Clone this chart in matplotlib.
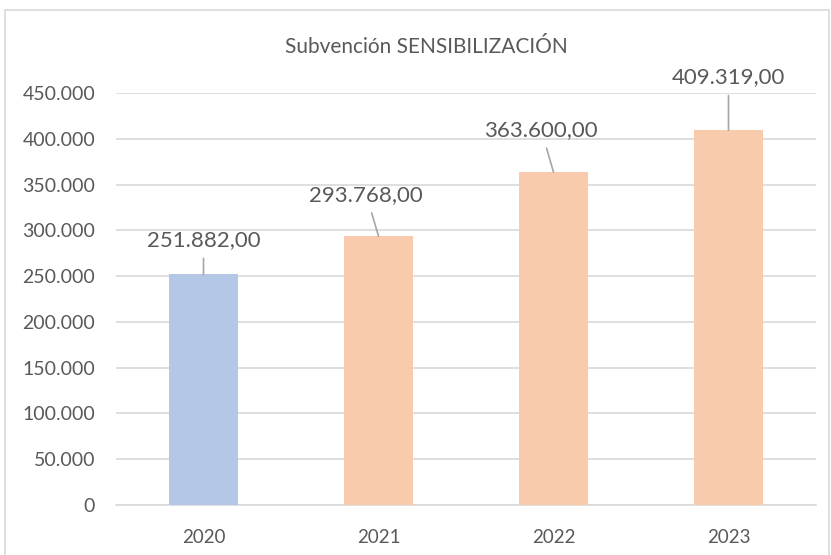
import matplotlib
matplotlib.use("Agg")
import matplotlib.pyplot as plt
from matplotlib.patches import Rectangle

years = ["2020", "2021", "2022", "2023"]
values = [251882.00, 293768.00, 363600.00, 409319.00]
colors = ["#B4C7E7", "#F8CBAD", "#F8CBAD", "#F8CBAD"]
value_labels = ["251.882,00", "293.768,00", "363.600,00", "409.319,00"]
yticks = [0, 50000, 100000, 150000, 200000, 250000, 300000, 350000, 400000, 450000]
ytick_labels = ["0", "50.000", "100.000", "150.000", "200.000", "250.000",
                "300.000", "350.000", "400.000", "450.000"]
title = "Subvención SENSIBILIZACIÓN"

# label offsets (in data units, x in category units) for leader lines
label_dx = [0.0, -0.07, -0.07, 0.0]
label_dy = [37500, 45000, 46000, 58000]

plt.rcParams['font.family'] = ['Lato', 'DejaVu Sans']
txt = "#595959"

fig = plt.figure(figsize=(8.31, 5.55), dpi=100)
fig.patches.append(Rectangle((5/831, -0.01), 824/831, 1 - 10/555 + 0.01,
                             transform=fig.transFigure, fill=False,
                             edgecolor="#D9D9D9", linewidth=1.2))
ax = fig.add_axes([116/831, 1 - 505/555, 700/831, 412/555])

x = list(range(len(years)))
ax.bar(x, values, width=0.39, color=colors, zorder=3)
ax.set_xlim(-0.5, len(years) - 0.5)
ax.set_ylim(0, 450000)
ax.set_yticks(yticks)
ax.set_yticklabels(ytick_labels, color=txt, fontsize=14)
ax.set_xticks(x)
ax.set_xticklabels(years, color=txt, fontsize=13.5)
ax.tick_params(axis='y', length=0, pad=15)
ax.tick_params(axis='x', length=0, pad=17)
ax.grid(axis='y', color="#D9D9D9", linewidth=1.2, zorder=0)
for s in ["top", "right", "left"]:
    ax.spines[s].set_visible(False)
ax.spines["bottom"].set_color("#D9D9D9")
ax.spines["bottom"].set_linewidth(1.2)

for i, (v, lab) in enumerate(zip(values, value_labels)):
    ax.annotate(lab, xy=(i, v), xytext=(i + label_dx[i], v + label_dy[i]),
                ha='center', va='center', fontsize=16, color=txt,
                arrowprops=dict(arrowstyle='-', color="#A6A6A6", lw=1.2,
                                shrinkA=4, shrinkB=0), zorder=5)

fig.text(426/831, 1 - 47/555, title, ha='center', va='center',
         fontsize=15, color=txt)

fig.savefig("out.png", dpi=100)
